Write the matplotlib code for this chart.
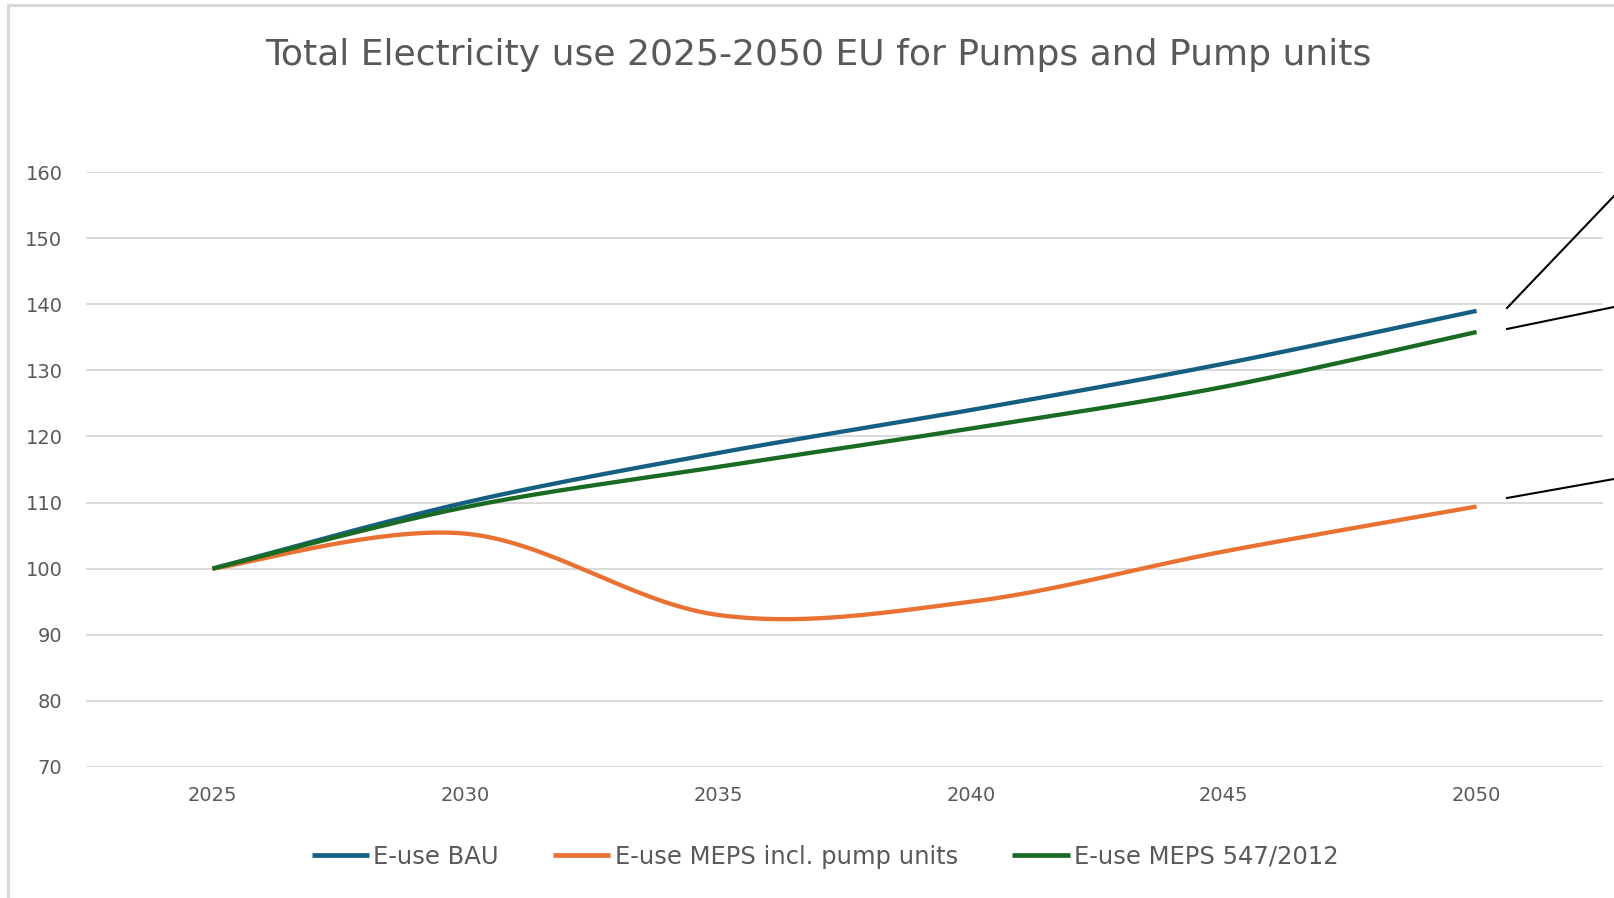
import numpy as np
import matplotlib
matplotlib.use("Agg")
import matplotlib.pyplot as plt
from matplotlib.lines import Line2D

# --- data -------------------------------------------------------------
years = ["2025", "2030", "2035", "2040", "2045", "2050"]
e_use_bau = [100, 110, 117.5, 124, 131, 139]
e_use_meps_pump_units = [100, 105.3, 93, 95, 102.6, 109.4]
e_use_meps_547 = [100, 109.3, 115.4, 121.2, 127.5, 135.8]

series_names = ["E-use BAU", "E-use MEPS incl. pump units", "E-use MEPS 547/2012"]
series_colors = ["#156082", "#E97132", "#196B24"]
title = "Total Electricity use 2025-2050 EU for Pumps and Pump units"

TEXT = "#595959"
GRID = "#D9D9D9"

W, H = 1614, 898


def smooth_curve(values, steps=60):
    """Cubic Bezier smoothing through the points (spreadsheet-style smoothed line)."""
    pts = np.column_stack([np.arange(len(values), dtype=float), np.asarray(values, float)])
    n = len(pts)
    xs, ys = [], []
    for i in range(n - 1):
        p0 = pts[max(i - 1, 0)]
        p1 = pts[i]
        p2 = pts[i + 1]
        p3 = pts[min(i + 2, n - 1)]
        c1 = p1 + (p2 - p0) / 6.0
        c2 = p2 - (p3 - p1) / 6.0
        t = np.linspace(0, 1, steps)[:, None]
        seg = ((1 - t) ** 3) * p1 + 3 * ((1 - t) ** 2) * t * c1 + 3 * (1 - t) * t ** 2 * c2 + t ** 3 * p2
        if i > 0:
            seg = seg[1:]
        xs.append(seg[:, 0])
        ys.append(seg[:, 1])
    return np.concatenate(xs), np.concatenate(ys)


fig = plt.figure(figsize=(W / 100, H / 100), dpi=100)
fig.patch.set_facecolor("white")

# plot area in pixel coordinates
left, right = 86, 1603
top, bottom = 172, 767
ax = fig.add_axes([left / W, 1 - bottom / H, (right - left) / W, (bottom - top) / H])

for vals, name, col in zip([e_use_bau, e_use_meps_pump_units, e_use_meps_547], series_names, series_colors):
    x, y = smooth_curve(vals)
    ax.plot(x, y, color=col, lw=3.1, solid_capstyle="butt", label=name, zorder=3)

ax.set_xlim(-0.5, len(years) - 0.5)
ax.set_ylim(70, 160)
ax.set_yticks(np.arange(70, 161, 10))
ax.set_xticks(range(len(years)))
ax.set_xticklabels(years)
ax.grid(axis="y", color=GRID, lw=1.4, zorder=0)
ax.grid(axis="x", visible=False)
for s in ax.spines.values():
    s.set_visible(False)
ax.tick_params(axis="both", length=0, colors=TEXT, labelsize=14)
ax.tick_params(axis="y", pad=17)
ax.tick_params(axis="x", pad=14)

# title
fig.text(818 / W, 1 - 55 / H, title, ha="center", va="center", fontsize=26, color=TEXT)

# legend
leg = fig.legend(loc="center", bbox_to_anchor=(825 / W, 1 - 857 / H), ncol=3, frameon=False,
                 fontsize=17.5, handlelength=2.35, handletextpad=0.17, columnspacing=2.25,
                 labelcolor=TEXT)
for h in leg.legend_handles:
    h.set_linewidth(3.4)


def fig_line(x0, y0, x1, y1, **kw):
    fig.add_artist(Line2D([x0 / W, x1 / W], [1 - y0 / H, 1 - y1 / H], transform=fig.transFigure, **kw))


# chart-area border
fig_line(7.5, 4.5, 7.5, H, color=GRID, lw=2.2)
fig_line(7.5, 4.5, W, 4.5, color=GRID, lw=2.2)

# data-label leader lines
fig_line(1507, 308, 1614, 196, color="black", lw=1.5)
fig_line(1507, 329, 1614, 307, color="black", lw=1.5)
fig_line(1507, 498, 1614, 479, color="black", lw=1.5)

fig.savefig("out.png", dpi=100, facecolor="white")
